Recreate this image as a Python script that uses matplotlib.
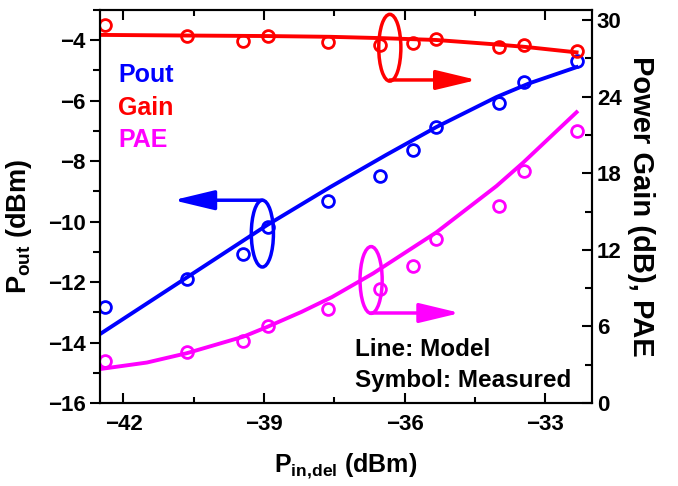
import matplotlib
matplotlib.use('Agg')
import matplotlib.pyplot as plt
from matplotlib.patches import Ellipse
from matplotlib.ticker import MultipleLocator

plt.rcParams['font.family'] = ['Liberation Sans', 'DejaVu Sans']
plt.rcParams['font.weight'] = 'bold'
plt.rcParams['axes.labelweight'] = 'bold'
plt.rcParams['mathtext.fontset'] = 'custom'
plt.rcParams['mathtext.rm'] = 'Liberation Sans:bold'
plt.rcParams['mathtext.bf'] = 'Liberation Sans:bold'

# measured input power (dBm), shared by all symbol series
pin_meas = [-42.39, -40.65, -39.44, -38.92, -37.63, -36.53, -35.82, -35.33, -33.99, -33.46, -32.32]
pout_meas = [-12.83, -11.91, -11.06, -10.17, -9.31, -8.50, -7.64, -6.87, -6.09, -5.37, -4.70]
gain_meas = [29.62, 28.75, 28.39, 28.78, 28.31, 28.04, 28.23, 28.49, 27.88, 28.04, 27.60]
pae_meas = [3.26, 3.97, 4.89, 6.02, 7.40, 8.90, 10.73, 12.84, 15.41, 18.18, 21.29]

# model curves
pin_pout_model = [-42.5, -40.65, -38.94, -37.59, -36.4, -35.32, -34.04, -33.33, -32.33]
pout_model = [-13.72, -11.85, -10.12, -8.86, -7.80, -6.87, -5.88, -5.42, -4.89]
pin_gain_model = [-42.5, -40.65, -38.94, -37.59, -36.53, -35.32, -34.04, -33.4, -32.33]
gain_model = [28.85, 28.80, 28.76, 28.70, 28.60, 28.45, 28.10, 27.90, 27.48]
pin_pae_model = [-42.5, -41.5, -40.65, -39.44, -38.94, -38.2, -37.55, -36.67, -35.32, -34.04, -33.47, -32.33]
pae_model = [2.66, 3.17, 3.9, 5.2, 5.95, 7.14, 8.3, 10.16, 13.38, 17.0, 18.84, 22.79]

BLUE = '#0000ff'
RED = '#ff0000'
MAG = '#ff00ff'

fig = plt.figure(figsize=(6.78, 4.86), dpi=100)
ax = fig.add_axes([0.1475, 0.1708, 0.7257, 0.8086])
ax2 = ax.twinx()

ax.plot(pin_pout_model, pout_model, color=BLUE, lw=2.8, solid_joinstyle='round')
ax.plot(pin_meas, pout_meas, 'o', ms=8.5, mfc='none', mec=BLUE, mew=2)

ax2.plot(pin_gain_model, gain_model, color=RED, lw=2.8, solid_joinstyle='round')
ax2.plot(pin_meas, gain_meas, 'o', ms=8.5, mfc='none', mec=RED, mew=2)
ax2.plot(pin_pae_model, pae_model, color=MAG, lw=2.8, solid_joinstyle='round')
ax2.plot(pin_meas, pae_meas, 'o', ms=8.5, mfc='none', mec=MAG, mew=2)

ax.set_xlim(-42.5, -32.0)
ax.set_ylim(-16, -3)
ax2.set_ylim(0, 30.8)

ax.xaxis.set_major_locator(MultipleLocator(3))
ax.xaxis.set_minor_locator(MultipleLocator(1.5))
ax.yaxis.set_major_locator(MultipleLocator(2))
ax.yaxis.set_minor_locator(MultipleLocator(1))
ax2.yaxis.set_major_locator(MultipleLocator(6))
ax2.yaxis.set_minor_locator(MultipleLocator(3))

ax.tick_params(axis='x', which='both', direction='in', top=True, labelsize=16, pad=8)
ax.tick_params(axis='x', which='major', length=7, width=1.5)
ax.tick_params(axis='x', which='minor', length=4, width=1.5)
ax.tick_params(axis='y', which='both', direction='out', labelsize=16, width=1.5)
ax.tick_params(axis='y', which='major', length=7)
ax.tick_params(axis='y', which='minor', length=5)
ax2.tick_params(axis='y', which='both', direction='in', labelsize=16, width=1.5)
ax2.tick_params(axis='y', which='major', length=7)
ax2.tick_params(axis='y', which='minor', length=5)

for a in (ax, ax2):
    for s in a.spines.values():
        s.set_linewidth(1.5)

ax.set_xlabel('P$_{\\mathbf{in{,}del}}$ (dBm)', fontsize=18, labelpad=12)
ax.set_ylabel('P$_{\\mathbf{out}}$ (dBm)', fontsize=19.5, labelpad=4)
ax.yaxis.set_label_coords(-0.135, 0.45)
ax2.set_ylabel('Power Gain (dB), PAE', fontsize=21, rotation=270, labelpad=24)

# series names
ax.text(0.037, 0.835, 'Pout', color=BLUE, fontsize=18, va='center', transform=ax.transAxes)
ax.text(0.037, 0.751, 'Gain', color=RED, fontsize=18, va='center', transform=ax.transAxes)
ax.text(0.037, 0.669, 'PAE', color=MAG, fontsize=18, va='center', transform=ax.transAxes)
ax2.text(0.518, 0.12, 'Line: Model', fontsize=17.5, va='baseline', transform=ax.transAxes)
ax2.text(0.518, 0.041, 'Symbol: Measured', fontsize=17.5, va='baseline', transform=ax.transAxes)

# ellipses with arrows pointing to the relevant axis
marks = [
    (BLUE, (0.330, 0.431), 0.516, 0.149),
    (RED, (0.589, 0.904), 0.822, 0.766),
    (MAG, (0.551, 0.313), 0.229, 0.732),
]
for col, cen, ya, xtip in marks:
    ax2.add_patch(Ellipse(cen, 0.045, 0.170, transform=ax2.transAxes,
                          fill=False, ec=col, lw=2.5))
    ax2.annotate('', xy=(xtip, ya), xytext=(cen[0], ya),
                 xycoords='axes fraction', textcoords='axes fraction',
                 arrowprops=dict(arrowstyle='-|>,head_length=2.5,head_width=0.6',
                                 mutation_scale=10, color=col, lw=2.5,
                                 shrinkA=0, shrinkB=0))

fig.savefig('out.png', dpi=100)
